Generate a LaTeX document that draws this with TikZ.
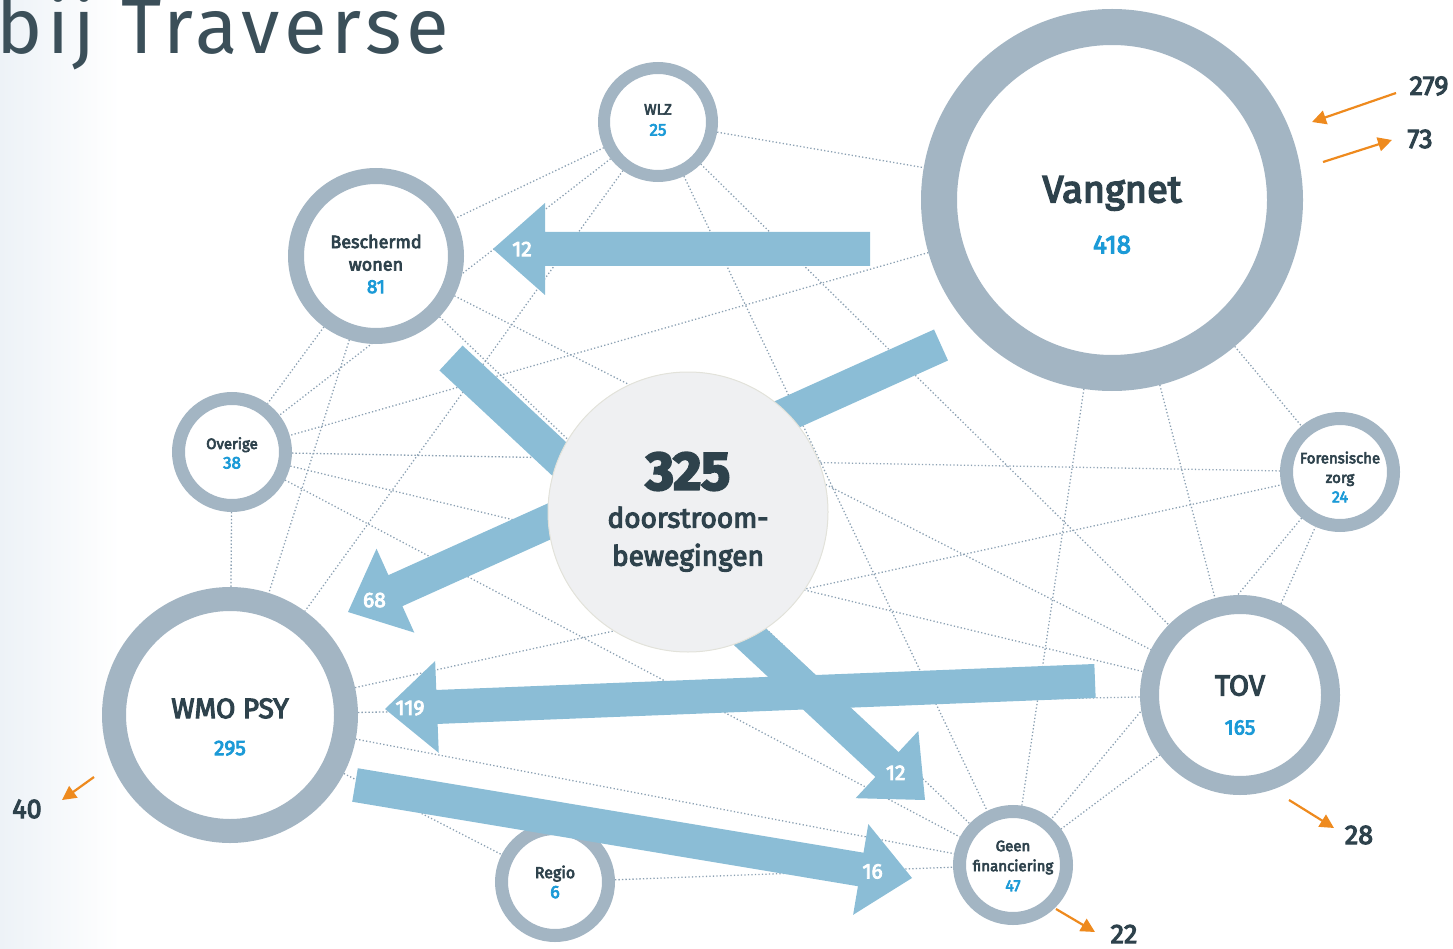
\documentclass[tikz,border=0pt]{standalone}
\usepackage{fontspec}
\setmainfont{Fira Sans}
\newfontfamily\medium{Fira Sans}[FakeBold=4]
\newfontfamily\titlefont{Fira Sans}[LetterSpace=6]
\usetikzlibrary{calc,arrows.meta}

\definecolor{ringgrey}{HTML}{A3B5C3}
\definecolor{textdark}{HTML}{2E424C}
\definecolor{titledark}{HTML}{3B4F59}
\definecolor{numblue}{HTML}{1B9AD7}
\definecolor{flowblue}{HTML}{8BBDD6}
\definecolor{netgrey}{HTML}{8CA1B3}
\definecolor{hubfill}{HTML}{EFF0F2}
\definecolor{hubline}{HTML}{E2E2DA}
\definecolor{outorange}{HTML}{EE8A1E}
\definecolor{leftblue}{HTML}{EDF2F7}

\pgfdeclarelayer{background}
\pgfsetlayers{background,main}

% fat arrow: start, tip, label distance from tip, label
\newcommand\fatarrow[4]{%
  \coordinate (fa-h) at ($(#2)!52pt!(#1)$);
  \fill[flow] ($(#1)!17pt!90:(#2)$) -- ($(fa-h)!17pt!-90:(#1)$) -- ($(fa-h)!46pt!-90:(#1)$)
    -- (#2) -- ($(fa-h)!46pt!90:(#1)$) -- ($(fa-h)!17pt!90:(#1)$) -- ($(#1)!17pt!-90:(#2)$) -- cycle;
  \node[flowlabel] at ($(#2)!#3!(#1)$) {#4};
}

\begin{document}
\begin{tikzpicture}[x=1pt, y=-1pt,
    ring/.style={circle, draw=ringgrey, fill=white, inner sep=0pt},
    nodetext/.style={align=center, text=textdark, inner sep=0pt},
    net/.style={draw=netgrey, line width=1.3pt, dash pattern=on 1.3pt off 2.2pt},
    flow/.style={fill=flowblue},
    flowlabel/.style={text=white, inner sep=0pt, font=\medium\fontsize{21}{24}\selectfont},
    hub/.style={circle, fill=hubfill, draw=hubline, line width=1pt, minimum size=280pt, inner sep=0pt},
    outflow/.style={draw=outorange, line width=2.2pt, -{Triangle[length=14pt, width=14pt]}},
    tally/.style={text=textdark, inner sep=0pt, font=\medium\fontsize{27}{28}\selectfont}]
    \useasboundingbox (0,0) rectangle (1453,949);

    \node[anchor=base west, inner sep=0pt, text=titledark, font=\titlefont\fontsize{78}{84}\selectfont] (title) at (-4,54) {bij Traverse};

    % circles
    \node[ring, minimum size=108pt, line width=12pt] (wlz) at (658,122) {};
    \node[ring, minimum size=160pt, line width=16pt] (bw) at (376,256) {};
    \node[ring, minimum size=346pt, line width=36pt] (vangnet) at (1112,200) {};
    \node[ring, minimum size=107pt, line width=13pt] (overige) at (232,452) {};
    \node[ring, minimum size=107pt, line width=13pt] (fz) at (1340,472) {};
    \node[ring, minimum size=232pt, line width=24pt] (wmo) at (230,715) {};
    \node[ring, minimum size=181pt, line width=19pt] (tov) at (1240,695) {};
    \node[ring, minimum size=107pt, line width=13pt] (gf) at (1013,865) {};
    \node[ring, minimum size=107pt, line width=13pt] (regio) at (555,882) {};

    \node[nodetext, font=\medium\fontsize{15}{21}\selectfont] (wlz-txt) at ($(wlz)+(0,-2)$)
        {WLZ\\{\color{numblue}\fontsize{17}{21}\selectfont 25}};
    \node[nodetext, font=\medium\fontsize{18}{22.5}\selectfont] (bw-txt) at ($(bw)+(0,8)$)
        {Beschermd\\wonen\\{\color{numblue}\fontsize{19}{22.5}\selectfont 81}};
    \node[nodetext, font=\medium\fontsize{38}{51}\selectfont] (vangnet-txt) at ($(vangnet)+(0,15)$)
        {Vangnet\\{\color{numblue}\fontsize{26}{51}\selectfont 418}};
    \node[nodetext, font=\medium\fontsize{15}{19.5}\selectfont] (overige-txt) at ($(overige)+(0,1)$)
        {Overige\\{\color{numblue}\fontsize{17}{19.5}\selectfont 38}};
    \node[nodetext, font=\medium\fontsize{15}{19.5}\selectfont] (fz-txt) at ($(fz)+(0,5)$)
        {Forensische\\zorg\\{\color{numblue}\fontsize{16}{19.5}\selectfont 24}};
    \node[nodetext, font=\medium\fontsize{28}{37}\selectfont] (wmo-txt) at ($(wmo)+(0,12)$)
        {WMO PSY\\{\color{numblue}\fontsize{21}{37}\selectfont 295}};
    \node[nodetext, font=\medium\fontsize{29}{39}\selectfont] (tov-txt) at ($(tov)+(0,10)$)
        {TOV\\{\color{numblue}\fontsize{21}{39}\selectfont 165}};
    \node[nodetext, font=\medium\fontsize{15}{20}\selectfont] (gf-txt) at ($(gf)+(0,1)$)
        {Geen\\financiering\\{\color{numblue}\fontsize{16}{20}\selectfont 47}};
    \node[nodetext, font=\medium\fontsize{16}{20}\selectfont] (regio-txt) at (regio)
        {Regio\\{\color{numblue}\fontsize{18}{20}\selectfont 6}};

    % dotted network
    \begin{pgfonlayer}{background}
        \shade[left color=leftblue, right color=white] (0,0) rectangle (120,949);
        \draw[net] (wlz) -- (vangnet);
        \draw[net] (wlz) -- (bw);
        \draw[net] (wlz) -- (overige);
        \draw[net] (wlz) -- (wmo);
        \draw[net] (wlz) -- (tov);
        \draw[net] (wlz) -- (gf);
        \draw[net] (bw) -- (overige);
        \draw[net] (bw) -- (wmo);
        \draw[net] (bw) -- (tov);
        \draw[net] (bw) -- (gf);
        \draw[net] (vangnet) -- (overige);
        \draw[net] (vangnet) -- (gf);
        \draw[net] (vangnet) -- (tov);
        \draw[net] (vangnet) -- (fz);
        \draw[net] (overige) -- (fz);
        \draw[net] (overige) -- (tov);
        \draw[net] (overige) -- (gf);
        \draw[net] (overige) -- (wmo);
        \draw[net] (wmo) -- (fz);
        \draw[net] (wmo) -- (tov);
        \draw[net] (wmo) -- (regio);
        \draw[net] (wmo) -- (gf);
        \draw[net] (tov) -- (fz);
        \draw[net] (tov) -- (gf);
        \draw[net] (fz) -- (gf);
        \draw[net] (regio) -- (gf);
    \end{pgfonlayer}

    % flows
    \coordinate (vb-s) at (870,249);  \coordinate (vb-t) at (493,249);
    \coordinate (vm-s) at (941,345);  \coordinate (vm-t) at (348,612);
    \coordinate (bg-s) at (451,358);  \coordinate (bg-t) at (925,800);
    \coordinate (tm-s) at (1095,681); \coordinate (tm-t) at (385,709);
    \coordinate (mg-s) at (355,785);  \coordinate (mg-t) at (912,878);
    \fatarrow{vb-s}{vb-t}{29pt}{12}
    \fatarrow{vm-s}{vm-t}{29pt}{68}
    \fatarrow{bg-s}{bg-t}{40pt}{12}
    \fatarrow{tm-s}{tm-t}{25pt}{119}
    \fatarrow{mg-s}{mg-t}{40pt}{16}

    \node[hub, align=center, text=textdark, font=\medium\fontsize{28}{38}\selectfont] (hub) at (688,512)
        {{\bfseries\fontsize{54}{38}\selectfont 325}\\doorstroom-\\bewegingen};

    % in- and outflow
    \node[tally] (n279) at (1429,86) {279};
    \node[tally] (n73) at (1420,139) {73};
    \node[tally] (n40) at (27,809) {40};
    \node[tally] (n28) at (1359,835) {28};
    \node[tally] (n22) at (1124,934) {22};
    \coordinate (o279s) at (1396,93);  \coordinate (o279e) at (1312,122);
    \coordinate (o73s) at (1323,162);  \coordinate (o73e) at (1392,140);
    \coordinate (o40s) at (94,777);    \coordinate (o40e) at (62,800);
    \coordinate (o28s) at (1289,800);  \coordinate (o28e) at (1334,828);
    \coordinate (o22s) at (1056,909);  \coordinate (o22e) at (1095,932);
    \draw[outflow] (o279s) -- (o279e);
    \draw[outflow] (o73s) -- (o73e);
    \draw[outflow] (o40s) -- (o40e);
    \draw[outflow] (o28s) -- (o28e);
    \draw[outflow] (o22s) -- (o22e);
\end{tikzpicture}
\end{document}
